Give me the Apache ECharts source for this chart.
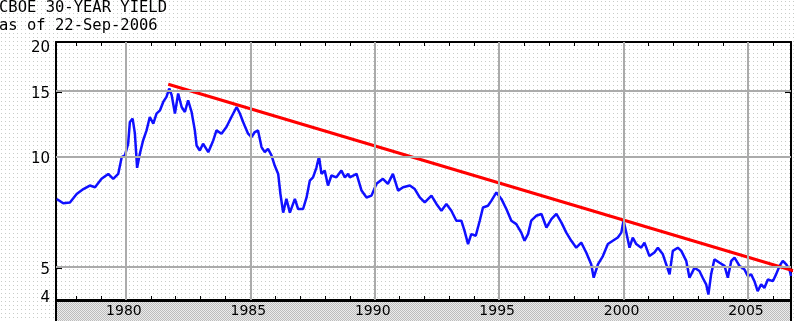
<!DOCTYPE html>
<html>
<head>
<meta charset="utf-8">
<script src="https://cdn.jsdelivr.net/npm/echarts@6/dist/echarts.min.js"></script>
<style>
  html, body { margin: 0; padding: 0; }
  body { width: 795px; height: 321px; overflow: hidden; background: #fff; }
  #chart { width: 795px; height: 321px; }
</style>
</head>
<body>
<div id="chart"></div>
<script>
// ---- Data ----
const titleLines = ['CBOE 30-YEAR YIELD', 'as of 22-Sep-2006'];

const dates = [
  1977.22, 1977.48, 1977.75, 1978.02, 1978.29, 1978.55, 1978.76, 1979.02, 1979.29, 1979.49,
  1979.69, 1979.83, 1979.96, 1980.09, 1980.16, 1980.27, 1980.36, 1980.45, 1980.56, 1980.69,
  1980.83, 1980.96, 1981.10, 1981.23, 1981.37, 1981.50, 1981.63, 1981.74, 1981.84, 1981.97,
  1982.10, 1982.24, 1982.37, 1982.50, 1982.64, 1982.77, 1982.84, 1982.97, 1983.10, 1983.31,
  1983.51, 1983.64, 1983.84, 1984.04, 1984.24, 1984.45, 1984.58, 1984.71, 1984.91, 1985.05,
  1985.18, 1985.31, 1985.45, 1985.58, 1985.71, 1985.85, 1985.98, 1986.12, 1986.21, 1986.32,
  1986.45, 1986.59, 1986.79, 1986.92, 1987.12, 1987.26, 1987.39, 1987.52, 1987.66, 1987.76,
  1987.86, 1987.99, 1988.12, 1988.26, 1988.46, 1988.66, 1988.80, 1988.93, 1989.00, 1989.27,
  1989.47, 1989.67, 1989.87, 1990.07, 1990.33, 1990.53, 1990.73, 1990.94, 1991.14, 1991.41,
  1991.61, 1991.81, 1992.01, 1992.28, 1992.48, 1992.68, 1992.88, 1993.08, 1993.28, 1993.48,
  1993.61, 1993.75, 1993.88, 1994.06, 1994.22, 1994.35, 1994.55, 1994.69, 1994.89, 1995.09,
  1995.29, 1995.49, 1995.69, 1995.89, 1996.02, 1996.16, 1996.29, 1996.49, 1996.70, 1996.90,
  1997.10, 1997.30, 1997.50, 1997.70, 1997.90, 1998.10, 1998.30, 1998.50, 1998.70, 1998.80,
  1998.97, 1999.17, 1999.37, 1999.57, 1999.77, 1999.91, 2000.00, 2000.11, 2000.24, 2000.37,
  2000.51, 2000.71, 2000.84, 2001.04, 2001.24, 2001.38, 2001.58, 2001.85, 2001.98, 2002.18,
  2002.32, 2002.52, 2002.65, 2002.85, 2003.05, 2003.18, 2003.32, 2003.41, 2003.52, 2003.65,
  2003.86, 2004.06, 2004.19, 2004.33, 2004.46, 2004.66, 2004.86, 2004.99, 2005.13, 2005.26,
  2005.39, 2005.53, 2005.66, 2005.80, 2006.00, 2006.13, 2006.27, 2006.40, 2006.54, 2006.67,
  2006.73
];

const yields = [
  7.68, 7.47, 7.51, 7.92, 8.17, 8.35, 8.26, 8.71, 8.98, 8.71,
  8.98, 9.97, 10.08, 10.85, 12.43, 12.69, 11.57, 9.33, 10.19, 11.07,
  11.79, 12.82, 12.30, 13.10, 13.37, 14.09, 14.54, 15.32, 14.69, 13.10,
  14.85, 13.65, 13.23, 14.24, 13.23, 11.79, 10.73, 10.40, 10.85, 10.29,
  11.07, 11.79, 11.55, 12.04, 12.82, 13.65, 13.10, 12.43, 11.55, 11.31,
  11.67, 11.79, 10.62, 10.29, 10.51, 10.08, 9.46, 8.98, 7.92, 7.05,
  7.68, 7.05, 7.68, 7.21, 7.21, 7.75, 8.61, 8.79, 9.36, 10.01,
  8.98, 9.17, 8.35, 8.89, 8.79, 9.17, 8.79, 8.98, 8.79, 8.98,
  8.09, 7.75, 7.84, 8.44, 8.71, 8.44, 8.98, 8.09, 8.26, 8.35,
  8.17, 7.75, 7.51, 7.84, 7.44, 7.13, 7.44, 7.13, 6.70, 6.70,
  6.29, 5.79, 6.16, 6.10, 6.70, 7.28, 7.36, 7.60, 8.00, 7.68,
  7.21, 6.70, 6.56, 6.22, 5.91, 6.16, 6.70, 6.91, 6.99, 6.42,
  6.77, 6.99, 6.63, 6.22, 5.91, 5.66, 5.84, 5.49, 5.10, 4.69,
  5.10, 5.37, 5.79, 5.91, 6.03, 6.22, 6.70, 6.22, 5.66, 6.03,
  5.79, 5.66, 5.84, 5.37, 5.49, 5.66, 5.43, 4.79, 5.55, 5.66,
  5.55, 5.21, 4.69, 4.99, 4.89, 4.69, 4.50, 4.22, 4.79, 5.26,
  5.15, 5.05, 4.69, 5.21, 5.32, 5.05, 4.94, 4.74, 4.79, 4.59,
  4.31, 4.50, 4.40, 4.64, 4.59, 4.79, 5.05, 5.21, 5.10, 4.94,
  4.74
];

// Red trend line drawn on the chart (start near the 1981 peak, end past the right edge)
const trendDates = [1981.70, 2006.86];
const trendYields = [15.74, 4.89];

// Axis ticks / labels
const xTickYears = [1978, 1979, 1980, 1981, 1982, 1983, 1984, 1985, 1986, 1987, 1988, 1989, 1990,
  1991, 1992, 1993, 1994, 1995, 1996, 1997, 1998, 1999, 2000, 2001, 2002, 2003, 2004, 2005, 2006];
const xLabelYears = [1980, 1985, 1990, 1995, 2000, 2005];
const yLabelValues = [4, 5, 10, 15, 20];
const yGridValues = [5, 10, 15];

// ---- Axis extents ----
const xMin = 1977.19, xMax = 2006.73;
const yMinVal = 4.08, yMaxVal = 20.5;
const yMin = Math.log10(yMinVal), yMax = Math.log10(yMaxVal);
const lg = v => Math.log10(Math.max(v, yMinVal));

// ---- Background patterns ----
function makePattern(size, draw) {
  const c = document.createElement('canvas');
  c.width = size; c.height = size;
  const ctx = c.getContext('2d');
  draw(ctx);
  return c;
}
const dotCanvas = makePattern(4, ctx => {
  ctx.fillStyle = '#ffffff'; ctx.fillRect(0, 0, 4, 4);
  ctx.fillStyle = '#c8ccc8'; ctx.fillRect(1, 1, 1, 1);
});
document.body.style.backgroundImage = 'url(' + dotCanvas.toDataURL() + ')';
const checkCanvas = makePattern(2, ctx => {
  ctx.fillStyle = '#ececec'; ctx.fillRect(0, 0, 2, 2);
  ctx.fillStyle = '#bcbcbc'; ctx.fillRect(0, 0, 1, 1); ctx.fillRect(1, 1, 1, 1);
});

const chart = echarts.init(document.getElementById('chart'), null, { renderer: 'canvas' });

const lineData = dates.map((d, i) => [d, Math.log10(yields[i])]);
const trendData = trendDates.map((d, i) => [d, Math.log10(trendYields[i])]);

const axisLineStyle = { color: '#000', width: 2 };
const gridColor = '#ababab';
const labelFont = { fontFamily: 'DejaVu Sans', fontSize: 15, color: '#000' };

const gridMarks = [].concat(
  xLabelYears.map(y => ({ xAxis: y })),
  yGridValues.map(v => ({ yAxis: lg(v) }))
);

chart.setOption({
  backgroundColor: 'transparent',
  animation: false,
  title: {
    text: titleLines.join('\n'),
    left: -1, top: -1, padding: 0,
    textStyle: { fontFamily: 'DejaVu Sans Mono', fontSize: 15.5, fontWeight: 'normal', color: '#000', lineHeight: 18 }
  },
  grid: { left: 56, right: 4, top: 42, bottom: 21, containLabel: false },
  xAxis: [
    {
      type: 'value', position: 'bottom', min: xMin, max: xMax,
      axisLine: { show: true, onZero: false, lineStyle: axisLineStyle },
      axisTick: { show: true, inside: true, length: 4, customValues: xTickYears, lineStyle: { color: '#000', width: 1 } },
      axisLabel: {
        show: true, customValues: xLabelYears, margin: 4,
        formatter: v => String(Math.round(v)),
        fontFamily: 'DejaVu Sans', fontSize: 14, color: '#000', padding: [0, 4, 0, 0]
      },
      splitLine: { show: false }
    },
    {
      type: 'value', position: 'top', min: xMin, max: xMax,
      axisLine: { show: true, onZero: false, lineStyle: axisLineStyle },
      axisTick: { show: true, inside: true, length: 4, customValues: xTickYears, lineStyle: { color: '#000', width: 1 } },
      axisLabel: { show: false },
      splitLine: { show: false }
    }
  ],
  yAxis: [
    {
      type: 'value', position: 'left', min: yMin, max: yMax,
      axisLine: { show: true, onZero: false, lineStyle: axisLineStyle },
      axisTick: { show: true, inside: true, length: 6, customValues: yGridValues.map(lg), lineStyle: { color: '#000', width: 2 } },
      axisLabel: {
        show: true, customValues: yLabelValues.map(lg), margin: 6,
        formatter: v => {
          const n = Math.round(Math.pow(10, v));
          return (v <= yMin + 1e-9 ? '{lo|' : '{hi|') + n + '}';
        },
        rich: {
          hi: Object.assign({ padding: [5, 0, 0, 0] }, labelFont),
          lo: Object.assign({ padding: [0, 0, 4, 0] }, labelFont)
        }
      },
      splitLine: { show: false }
    },
    {
      type: 'value', position: 'right', min: yMin, max: yMax,
      axisLine: { show: true, onZero: false, lineStyle: axisLineStyle },
      axisTick: { show: true, inside: true, length: 6, customValues: yGridValues.map(lg), lineStyle: { color: '#000', width: 2 } },
      axisLabel: { show: false },
      splitLine: { show: false }
    }
  ],
  graphic: [
    {
      type: 'rect', z: -10, silent: true,
      shape: { x: 56, y: 301, width: 735, height: 22 },
      style: { fill: { image: checkCanvas, repeat: 'repeat' }, stroke: '#000', lineWidth: 2 }
    }
  ],
  series: [
    {
      name: 'grid', type: 'line', data: [], z: 1, silent: true,
      markLine: {
        silent: true, symbol: ['none', 'none'], label: { show: false }, animation: false,
        lineStyle: { type: 'solid', color: gridColor, width: 2 },
        data: gridMarks
      }
    },
    {
      name: 'CBOE 30-Year Yield', type: 'line', data: lineData, z: 3,
      showSymbol: false, symbol: 'none', smooth: false,
      lineStyle: { color: '#1010ff', width: 2.5 }
    },
    {
      name: 'Trend', type: 'line', data: trendData, z: 4, clip: false,
      showSymbol: false, symbol: 'none',
      lineStyle: { color: '#ff0000', width: 3 }
    }
  ]
});
</script>
</body>
</html>
